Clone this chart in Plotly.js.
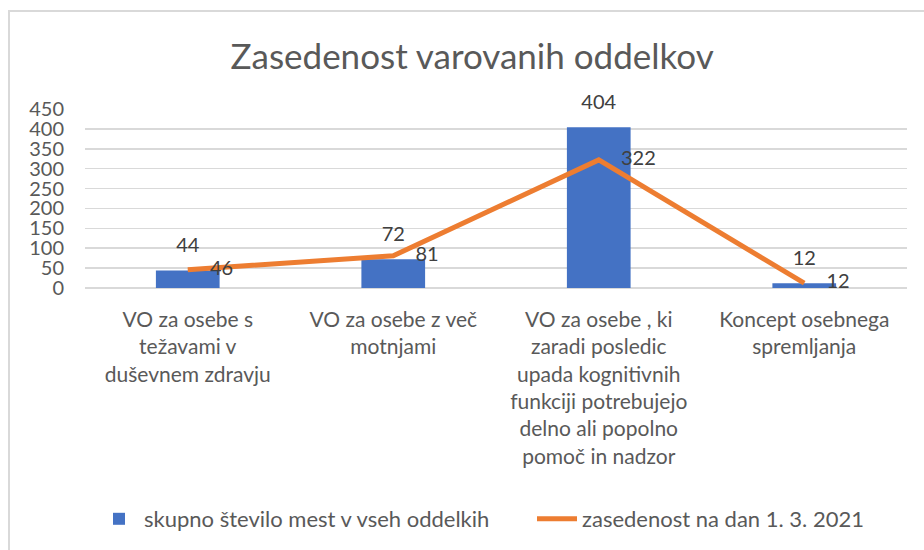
<!DOCTYPE html>
<html>
<head>
<meta charset="utf-8">
<script src="https://cdn.plot.ly/plotly-3.0.1.min.js"></script>
<style>
  html, body { margin: 0; padding: 0; background: #fff; }
  #wrap { position: relative; width: 924px; height: 550px; }
  #chart { width: 924px; height: 550px; }
  #frame { position: absolute; left: 8px; top: 10px; width: 930px; height: 560px;
           border-left: 2px solid #D9D9D9; border-top: 2px solid #D9D9D9; pointer-events: none; }
</style>
</head>
<body>
<div id="wrap">
  <div id="chart"></div>
  <div id="frame"></div>
</div>
<script>
const categories = [
  "VO za osebe s<br>težavami v<br>duševnem zdravju",
  "VO za osebe z več<br>motnjami",
  "VO za osebe , ki<br>zaradi posledic<br>upada kognitivnih<br>funkciji potrebujejo<br>delno ali popolno<br>pomoč in nadzor",
  "Koncept osebnega<br>spremljanja"
];
const totalPlaces = [44, 72, 404, 12];
const occupancy = [46, 81, 322, 12];
const seriesNames = ["skupno število mest v vseh oddelkih", "zasedenost na dan 1. 3. 2021"];
const yTicks = [0, 50, 100, 150, 200, 250, 300, 350, 400, 450];
const chartTitle = "Zasedenost varovanih oddelkov";

const FONT = "Lato, 'Open Sans', sans-serif";

const traces = [
  {
    type: "bar",
    x: categories,
    y: totalPlaces,
    name: seriesNames[0],
    legend: "legend",
    marker: { color: "#4472C4" }
  },
  {
    type: "scatter",
    mode: "lines",
    x: categories,
    y: occupancy,
    name: seriesNames[1],
    legend: "legend2",
    line: { color: "#ED7D31", width: 5, shape: "linear" }
  },
  {
    type: "scatter",
    mode: "markers+text",
    x: categories,
    y: occupancy,
    showlegend: false,
    marker: { size: 34, opacity: 0, color: "#ED7D31" },
    text: occupancy.map(String),
    textposition: "middle right",
    cliponaxis: false,
    textfont: { family: FONT, size: 20, color: "#404040" }
  },
  {
    type: "scatter",
    mode: "markers+text",
    x: categories,
    y: totalPlaces,
    showlegend: false,
    marker: { size: 20, opacity: 0, color: "#4472C4" },
    text: totalPlaces.map(String),
    textposition: "top center",
    cliponaxis: false,
    textfont: { family: FONT, size: 20, color: "#404040" }
  }
];

const legendBase = {
  orientation: "h",
  xref: "container", yref: "container",
  xanchor: "left",
  y: 1 - 519 / 550, yanchor: "middle",
  font: { family: FONT, size: 22, color: "#595959" },
  itemwidth: 40
};

const layout = {
  width: 924,
  height: 550,
  margin: { l: 85, r: 17, t: 109, b: 262, pad: 0 },
  paper_bgcolor: "#ffffff",
  plot_bgcolor: "#ffffff",
  font: { family: FONT, color: "#595959", size: 20 },
  title: {
    text: chartTitle,
    font: { family: FONT, size: 35, color: "#595959" },
    x: 0.511, xref: "container", xanchor: "center",
    y: 1 - 57 / 550, yref: "container", yanchor: "middle"
  },
  bargap: 0.69,
  showlegend: true,
  legend: Object.assign({}, legendBase, { x: 94 / 924 }),
  legend2: Object.assign({}, legendBase, { x: 532 / 924 }),
  xaxis: {
    type: "category",
    showgrid: false,
    showline: false,
    zeroline: false,
    ticks: "",
    tickangle: 0,
    tickfont: { family: FONT, size: 21, color: "#595959" },
    ticklabelstandoff: 17
  },
  yaxis: {
    range: [0, 450],
    tickvals: yTicks,
    ticktext: yTicks.map(String),
    showgrid: true,
    gridcolor: "#D9D9D9",
    gridwidth: 1.5,
    zeroline: true,
    zerolinecolor: "#D9D9D9",
    zerolinewidth: 1.5,
    showline: false,
    ticks: "",
    tickfont: { family: FONT, size: 20, color: "#595959" },
    ticklabelstandoff: 20
  }
};

Plotly.newPlot("chart", traces, layout, { displayModeBar: false, staticPlot: true });
</script>
</body>
</html>
